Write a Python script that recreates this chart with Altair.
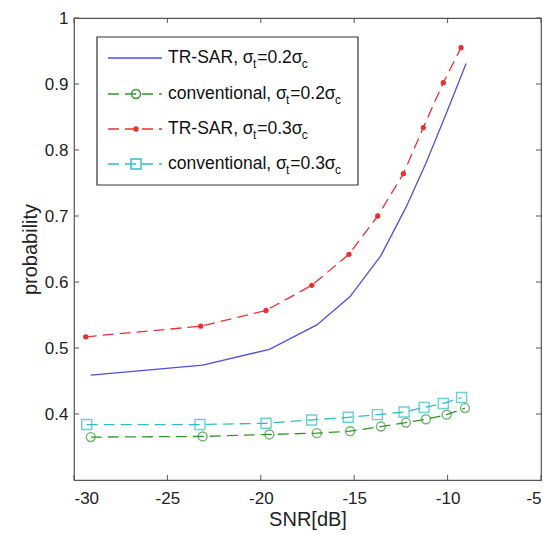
import altair as alt
import pandas as pd

# ---------------- data ----------------
snr_tr02 = [-29.1, -23.11, -19.54, -17.0, -15.22, -13.57, -12.23, -11.16, -10.05, -9.01]
p_tr02 = [0.459, 0.474, 0.498, 0.535, 0.578, 0.640, 0.713, 0.780, 0.857, 0.931]

snr_conv02 = [-29.1, -23.11, -19.54, -17.0, -15.22, -13.57, -12.23, -11.16, -10.05, -9.07]
p_conv02 = [0.365, 0.366, 0.369, 0.371, 0.374, 0.381, 0.387, 0.392, 0.399, 0.409]

snr_tr03 = [-29.37, -23.22, -19.72, -17.27, -15.28, -13.74, -12.37, -11.30, -10.23, -9.28]
p_tr03 = [0.517, 0.533, 0.557, 0.595, 0.642, 0.700, 0.764, 0.834, 0.902, 0.955]

snr_conv03 = [-29.32, -23.26, -19.72, -17.28, -15.32, -13.76, -12.33, -11.26, -10.23, -9.25]
p_conv03 = [0.384, 0.384, 0.386, 0.391, 0.395, 0.399, 0.403, 0.410, 0.416, 0.425]

x_ticks = [-30, -25, -20, -15, -10, -5]
y_ticks = [0.4, 0.5, 0.6, 0.7, 0.8, 0.9, 1.0]

legend_names = ["TR-SAR, σ", "conventional, σ", "TR-SAR, σ", "conventional, σ"]
legend_vals = ["=0.2σ", "=0.2σ", "=0.3σ", "=0.3σ"]

# ---------------- styling ----------------
BLUE = "#4f4fdc"
GREEN = "#2f962f"
RED = "#e63232"
CYAN = "#2fbcc6"
FONT = "Liberation Sans"
W, H = 467, 462
DASH = [11, 6]

xs = alt.Scale(domain=[-30, -5], nice=False, zero=False)
ys = alt.Scale(domain=[0.3, 1.0], nice=False, zero=False)

x_axis = alt.Axis(values=x_ticks, title="SNR[dB]", labelExpr="'' + datum.value",
                  labelPadding=10, titlePadding=3, grid=False)
y_axis = alt.Axis(values=y_ticks, title="probability", labelExpr="'' + datum.value",
                  labelPadding=6, titlePadding=4, grid=False)
X = alt.X("snr:Q", scale=xs, axis=x_axis)
Y = alt.Y("p:Q", scale=ys, axis=y_axis)


def frame(x, y):
    return pd.DataFrame({"snr": x, "p": y})


d_tr02 = frame(snr_tr02, p_tr02)
d_conv02 = frame(snr_conv02, p_conv02)
d_tr03 = frame(snr_tr03, p_tr03)
d_conv03 = frame(snr_conv03, p_conv03)

layers = []

layers.append(alt.Chart(d_tr02).mark_line(color=BLUE, strokeWidth=1.3).encode(x=X, y=Y))

layers.append(alt.Chart(d_conv02).mark_line(color=GREEN, strokeWidth=1.3, strokeDash=DASH).encode(x=X, y=Y))
layers.append(alt.Chart(d_conv02).mark_point(shape="circle", filled=False, color=GREEN, size=80, strokeWidth=1.4).encode(x=X, y=Y))

layers.append(alt.Chart(d_tr03).mark_line(color=RED, strokeWidth=1.3, strokeDash=DASH).encode(x=X, y=Y))
layers.append(alt.Chart(d_tr03).mark_point(shape="circle", filled=True, color=RED, size=28, opacity=1).encode(x=X, y=Y))

layers.append(alt.Chart(d_conv03).mark_line(color=CYAN, strokeWidth=1.3, strokeDash=DASH).encode(x=X, y=Y))
layers.append(alt.Chart(d_conv03).mark_point(shape="square", filled=False, color=CYAN, size=100, strokeWidth=1.4).encode(x=X, y=Y))

# inward ticks on all four sides
tick_col = "#555555"
dx = pd.DataFrame({"snr": x_ticks})
dy = pd.DataFrame({"p": y_ticks})
layers.append(alt.Chart(dx).mark_rule(color=tick_col, strokeWidth=1).encode(x=X, y=alt.value(H), y2=alt.value(H - 5)))
layers.append(alt.Chart(dx).mark_rule(color=tick_col, strokeWidth=1).encode(x=X, y=alt.value(0), y2=alt.value(5)))
layers.append(alt.Chart(dy).mark_rule(color=tick_col, strokeWidth=1).encode(y=Y, x=alt.value(0), x2=alt.value(5)))
layers.append(alt.Chart(dy).mark_rule(color=tick_col, strokeWidth=1).encode(y=Y, x=alt.value(W), x2=alt.value(W - 5)))

# ---------------- legend (hand built to allow subscripts) ----------------
CW = {'T': 611, 'R': 722, '-': 333, 'S': 667, 'A': 667, ',': 278, ' ': 278, 'σ': 572,
      'c': 500, 'o': 556, 'n': 556, 'v': 500, 'e': 556, 't': 278, 'i': 222, 'a': 556,
      'l': 222, '=': 584, '0': 556, '.': 278, '2': 556, '3': 556}


def text_w(s, size):
    return sum(CW.get(ch, 556) for ch in s) / 1000.0 * size


one = pd.DataFrame({"k": [0]})
LF = 17.5
SF = 12
box = alt.Chart(one).mark_rect(fill="white", stroke="#333333", strokeWidth=1.2).encode(
    x=alt.value(23), x2=alt.value(284), y=alt.value(19), y2=alt.value(167))
layers.append(box)

colors = [BLUE, GREEN, RED, CYAN]
dashes = [None, DASH, DASH, DASH]
markers = [None, ("circle", False, 80), ("circle", True, 28), ("square", False, 100)]
rows_y = [40, 76, 111, 146]
for i in range(4):
    yc = rows_y[i]
    kw = dict(color=colors[i], strokeWidth=1.3)
    if dashes[i] is not None:
        kw["strokeDash"] = dashes[i]
    layers.append(alt.Chart(one).mark_rule(**kw).encode(
        x=alt.value(34), x2=alt.value(88), y=alt.value(yc)))
    if markers[i] is not None:
        shp, fil, sz = markers[i]
        layers.append(alt.Chart(one).mark_point(shape=shp, filled=fil, color=colors[i], size=sz,
                                                strokeWidth=1.4, opacity=1).encode(
            x=alt.value(62), y=alt.value(yc)))
    x0 = 94
    t1 = legend_names[i]
    t2 = legend_vals[i]
    x_sub1 = x0 + text_w(t1, LF)
    x_t2 = x_sub1 + text_w("t", SF) + 1
    x_sub2 = x_t2 + text_w(t2, LF)
    for txt, xx, size, dyy in [(t1, x0, LF, 0), ("t", x_sub1, SF, 6), (t2, x_t2, LF, 0), ("c", x_sub2, SF, 6)]:
        layers.append(alt.Chart(one).mark_text(
            text=txt, align="left", baseline="middle", font=FONT, fontSize=size, color="#111111").encode(
            x=alt.value(xx), y=alt.value(yc + dyy)))

chart = alt.layer(*layers).properties(
    width=W, height=H,
    padding={"left": 66, "top": 10, "right": 8, "bottom": 54},
    autosize=alt.AutoSizeParams(type="none"),
).configure_view(
    stroke="#555555", strokeWidth=1.2
).configure_axis(
    domain=False, ticks=False,
    labelFont=FONT, labelFontSize=17, labelColor="#222222",
    titleFont=FONT, titleFontSize=20, titleFontWeight="normal", titleColor="#222222",
)

chart.save("out.html", embed_options={"renderer": "svg", "actions": False})
